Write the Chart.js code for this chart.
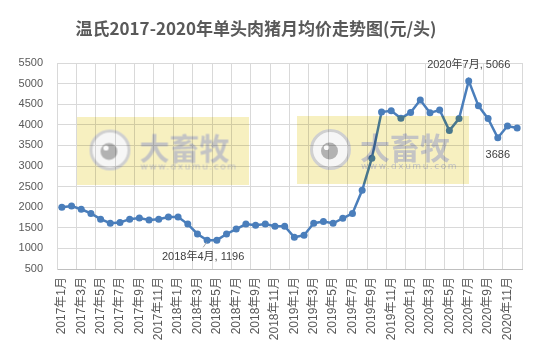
<!DOCTYPE html>
<html>
<head>
<meta charset="utf-8">
<script src="https://cdn.jsdelivr.net/npm/chart.js@4.4.1/dist/chart.umd.min.js"></script>
<style>
    html, body { margin: 0; padding: 0; background: #fff; }
    #wrap { width: 546px; height: 345px; position: relative; }
</style>
</head>
<body>
<div id="wrap"><canvas id="priceChart"></canvas></div>
<script>
// 月份 (2017年1月 - 2020年12月)
const months = [
    '2017年1月', '2017年2月', '2017年3月', '2017年4月', '2017年5月', '2017年6月',
    '2017年7月', '2017年8月', '2017年9月', '2017年10月', '2017年11月', '2017年12月',
    '2018年1月', '2018年2月', '2018年3月', '2018年4月', '2018年5月', '2018年6月',
    '2018年7月', '2018年8月', '2018年9月', '2018年10月', '2018年11月', '2018年12月',
    '2019年1月', '2019年2月', '2019年3月', '2019年4月', '2019年5月', '2019年6月',
    '2019年7月', '2019年8月', '2019年9月', '2019年10月', '2019年11月', '2019年12月',
    '2020年1月', '2020年2月', '2020年3月', '2020年4月', '2020年5月', '2020年6月',
    '2020年7月', '2020年8月', '2020年9月', '2020年10月', '2020年11月', '2020年12月'
];

// 单头肉猪月均价 (元/头)
const prices = [
    2000, 2030, 1950, 1850, 1710, 1610, 1630, 1710, 1740, 1690, 1710, 1760,
    1760, 1590, 1350, 1196, 1200, 1350, 1470, 1590, 1560, 1590, 1540, 1540,
    1270, 1320, 1610, 1650, 1610, 1730, 1850, 2410, 3190, 4310, 4340, 4160,
    4300, 4600, 4290, 4360, 3860, 4150, 5066, 4460, 4150, 3686, 3970, 3920
];

// y轴刻度
const yMin = 500;
const yMax = 5500;
const yStep = 500;

// 数据标签
const callouts = [
    { month: '2018年4月', showName: true },
    { month: '2020年7月', showName: true },
    { month: '2020年10月', showName: false }
];

const titleText = '温氏2017-2020年单头肉猪月均价走势图(元/头)';
const textColor = '#595959';
const baseFont = '"Liberation Sans", "Noto Sans CJK SC", sans-serif';

// watermark image, drawn once and multiplied over the plot
function makeWatermark() {
    const c = document.createElement('canvas');
    c.width = 172; c.height = 68;
    const g = c.getContext('2d');
    g.fillStyle = 'rgb(247,240,192)';
    g.fillRect(0, 0, 172, 68);
    // circle logo
    g.beginPath();
    g.arc(33.5, 33.5, 19, 0, Math.PI * 2);
    g.fillStyle = 'rgb(246,246,246)';
    g.fill();
    g.lineWidth = 3;
    g.strokeStyle = 'rgb(208,208,208)';
    g.stroke();
    g.beginPath();
    g.arc(32.5, 35, 8.5, 0, Math.PI * 2);
    g.fillStyle = 'rgb(178,178,178)';
    g.fill();
    g.beginPath();
    g.arc(29.5, 31.5, 2.6, 0, Math.PI * 2);
    g.fillStyle = 'rgb(250,250,250)';
    g.fill();
    // text
    g.fillStyle = 'rgb(196,196,196)';
    g.textBaseline = 'middle';
    g.font = 'bold 30px "Noto Sans CJK SC", sans-serif';
    g.fillText('大畜牧', 63, 32);
    g.font = '9px "DejaVu Sans", sans-serif';
    if ('letterSpacing' in g) g.letterSpacing = '1.5px';
    g.fillText('www.dxumu.com', 64, 51);
    return c;
}
const watermark = makeWatermark();

const titlePlugin = {
    id: 'excelTitle',
    afterDraw(chart) {
        const ctx = chart.ctx;
        ctx.save();
        ctx.fillStyle = textColor;
        ctx.font = 'bold 17px "Noto Sans CJK SC", sans-serif';
        ctx.textAlign = 'center';
        ctx.textBaseline = 'middle';
        ctx.fillText(titleText, 256, 29);
        ctx.restore();
    }
};

const calloutPlugin = {
    id: 'callouts',
    afterDatasetsDraw(chart) {
        const ctx = chart.ctx;
        const xs = chart.scales.x, ys = chart.scales.y;
        ctx.save();
        ctx.fillStyle = '#404040';
        ctx.font = '11px ' + baseFont;
        ctx.textAlign = 'center';
        ctx.textBaseline = 'middle';
        callouts.forEach(c => {
            const i = months.indexOf(c.month);
            const v = prices[i];
            const px = xs.getPixelForValue(i);
            const py = ys.getPixelForValue(v);
            const text = c.showName ? c.month + ', ' + v : String(v);
            let tx = px, ty;
            // above the peak, below the others
            if (v === Math.max(...prices)) {
                ty = py - 16;
            } else {
                ty = py + 17;
                if (c.showName) {
                    tx = px - 4;
                    ctx.strokeStyle = '#a6a6a6';
                    ctx.lineWidth = 1;
                    ctx.beginPath();
                    ctx.moveTo(px - 4, py + 7);
                    ctx.lineTo(px - 0.5, py + 2);
                    ctx.stroke();
                }
            }
            ctx.fillText(text, tx, ty);
        });
        ctx.restore();
    }
};

const watermarkPlugin = {
    id: 'watermark',
    afterDraw(chart) {
        const ctx = chart.ctx;
        ctx.save();
        ctx.globalCompositeOperation = 'multiply';
        ctx.drawImage(watermark, 76.5, 116.5);
        ctx.drawImage(watermark, 297, 116);
        ctx.restore();
    }
};

const ctx = document.getElementById('priceChart').getContext('2d');
new Chart(ctx, {
    type: 'line',
    data: {
        labels: months,
        datasets: [{
            label: '月均价',
            data: prices,
            borderColor: '#4a7ebb',
            backgroundColor: '#4a7ebb',
            borderWidth: 2.5,
            pointRadius: 3.5,
            pointBorderWidth: 0,
            pointBackgroundColor: '#4a7ebb',
            tension: 0,
            fill: false
        }]
    },
    options: {
        responsive: true,
        maintainAspectRatio: false,
        animation: false,
        layout: { padding: { top: 63, right: 24, left: 0, bottom: 0 } },
        plugins: {
            legend: { display: false },
            tooltip: { enabled: false },
            title: { display: false }
        },
        scales: {
            x: {
                offset: true,
                grid: {
                    offset: true,
                    drawTicks: false,
                    lineWidth: 1,
                    color: (c) => (c.index === undefined || c.index % 2 === 0) ? '#d9d9d9' : 'rgba(0,0,0,0)'
                },
                border: { color: '#bfbfbf', width: 1 },
                ticks: {
                    autoSkip: false,
                    minRotation: 90,
                    maxRotation: 90,
                    padding: 8,
                    color: textColor,
                    font: { family: baseFont, size: 12 },
                    callback: (v, i) => i % 2 === 0 ? months[i] : ''
                },
                afterFit: (scale) => { scale.height = 76; }
            },
            y: {
                min: yMin,
                max: yMax,
                grid: { color: '#d9d9d9', drawTicks: false },
                border: { color: '#d9d9d9' },
                ticks: {
                    stepSize: yStep,
                    padding: 14,
                    color: textColor,
                    font: { family: baseFont, size: 11 },
                    callback: (v) => String(v)
                },
                afterFit: (scale) => { scale.width = 57; }
            }
        }
    },
    plugins: [calloutPlugin, titlePlugin, watermarkPlugin]
});
</script>
</body>
</html>
